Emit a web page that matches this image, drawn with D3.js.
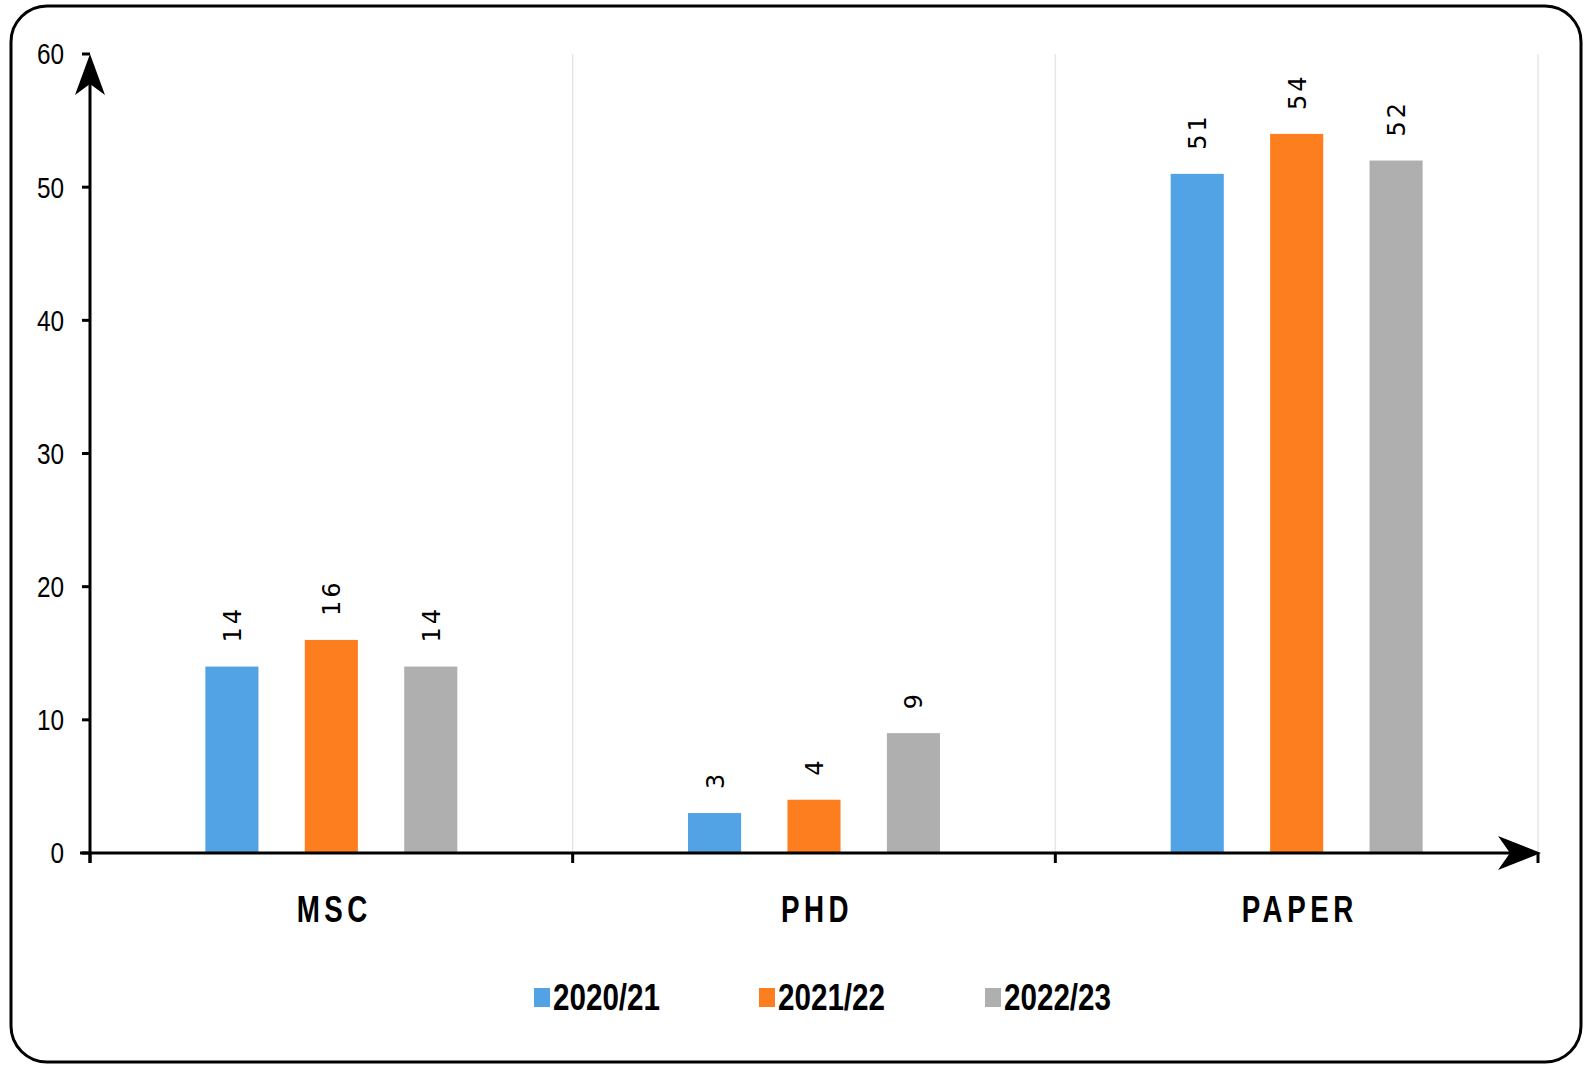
<!DOCTYPE html>
<html><head><meta charset="utf-8">
<script src="https://cdn.jsdelivr.net/npm/d3@7"></script>
<style>html,body{margin:0;padding:0;background:#fff;overflow:hidden}svg{display:block}</style>
</head><body>
<svg id="c" width="1589" height="1071" viewBox="0 0 1589 1071"></svg>
<script>
const categories = ["MSC", "PHD", "PAPER"];
const seriesNames = ["2020/21", "2021/22", "2022/23"];
const values2020 = [14, 3, 51];
const values2021 = [16, 4, 54];
const values2022 = [14, 9, 52];
const yTicks = [0, 10, 20, 30, 40, 50, 60];
const colors = ["#52a2e6", "#fd7e1e", "#afafaf"];

const series = [values2020, values2021, values2022];
const svg = d3.select("#c");
const lib = "'Liberation Sans',Arial,sans-serif";

// frame
svg.append("rect").attr("x", 11).attr("y", 6).attr("width", 1570).attr("height", 1056)
  .attr("rx", 36).attr("ry", 36).attr("fill", "#fff").attr("stroke", "#000").attr("stroke-width", 3);

const x0 = 90, x1 = 1538, yTop = 54, yBot = 853;
const x = d3.scaleBand().domain(categories).range([x0, x1]);
const y = d3.scaleLinear().domain([0, 60]).range([yBot, yTop]);

// vertical gridlines at category boundaries
const bounds = categories.map(c => x(c) + x.bandwidth());
svg.append("g").selectAll("line").data(bounds).join("line")
  .attr("x1", d => d).attr("x2", d => d).attr("y1", yTop).attr("y2", yBot)
  .attr("stroke", "#e6e6e6").attr("stroke-width", 1.5);

// bars
const bw = x.bandwidth();
const barW = bw * 0.11;
const step = bw * 0.206;
series.forEach((vals, si) => {
  const g = svg.append("g");
  g.selectAll("rect").data(categories).join("rect")
    .attr("x", c => x(c) + bw / 2 + (si - 1) * step - barW / 2)
    .attr("y", (c, i) => y(vals[i]))
    .attr("width", barW)
    .attr("height", (c, i) => yBot - y(vals[i]))
    .attr("fill", colors[si]);
  g.selectAll("text").data(categories).join("text")
    .attr("transform", (c, i) => {
      const cx = x(c) + bw / 2 + (si - 1) * step;
      return `translate(${cx + 9},${y(vals[i]) - 24}) rotate(-90)`;
    })
    .attr("font-family", "'DejaVu Sans',sans-serif").attr("font-size", 24)
    .attr("fill", "#000").attr("letter-spacing", 3)
    .text((c, i) => vals[i]);
});

// y axis ticks and labels
const ya = svg.append("g");
ya.selectAll("line").data(yTicks).join("line")
  .attr("x1", x0 - 8).attr("x2", x0).attr("y1", d => y(d)).attr("y2", d => y(d))
  .attr("stroke", "#000").attr("stroke-width", 3);
ya.selectAll("text").data(yTicks).join("text")
  .attr("transform", d => `translate(${x0 - 26},${y(d)}) scale(0.84,1)`)
  .attr("text-anchor", "end").attr("dy", "0.36em")
  .attr("font-family", lib).attr("font-size", 29).attr("fill", "#000")
  .text(d => d);

// x axis labels
svg.append("g").selectAll("text").data(categories).join("text")
  .attr("transform", c => `translate(${x(c) + bw / 2 + 3},${922}) scale(0.75,1)`)
  .attr("text-anchor", "middle")
  .attr("font-family", lib).attr("font-weight", "bold").attr("font-size", 37)
  .attr("letter-spacing", 6).attr("fill", "#000").text(c => c);
svg.append("g").selectAll("line").data([x0, ...bounds]).join("line")
  .attr("x1", d => d).attr("x2", d => d).attr("y1", yBot).attr("y2", yBot + 10)
  .attr("stroke", "#000").attr("stroke-width", 3);

// axis lines with arrows
svg.append("line").attr("x1", x0 - 10).attr("x2", x1 - 10).attr("y1", yBot).attr("y2", yBot)
  .attr("stroke", "#000").attr("stroke-width", 3);
svg.append("line").attr("x1", x0).attr("x2", x0).attr("y1", yBot + 10).attr("y2", yTop + 20)
  .attr("stroke", "#000").attr("stroke-width", 3);
svg.append("path").attr("d", `M${x0},${yTop} L${x0 + 15},${yTop + 41} L${x0},${yTop + 30} L${x0 - 15},${yTop + 41} Z`).attr("fill", "#000");
svg.append("path").attr("d", `M${x1 + 3},${yBot} L${x1 - 40},${yBot + 17} L${x1 - 28},${yBot} L${x1 - 40},${yBot - 17} Z`).attr("fill", "#000");

// legend
const legX = [534, 759, 985];
const leg = svg.append("g").selectAll("g").data(seriesNames).join("g")
  .attr("transform", (d, i) => `translate(${legX[i]},${988})`);
leg.append("rect").attr("width", 16).attr("height", 19).attr("fill", (d, i) => colors[i]);
leg.append("text").attr("transform", "translate(19,22) scale(0.8,1)")
  .attr("font-family", lib).attr("font-weight", "bold")
  .attr("font-size", 37).attr("fill", "#000").text(d => d);
</script>
</body></html>
